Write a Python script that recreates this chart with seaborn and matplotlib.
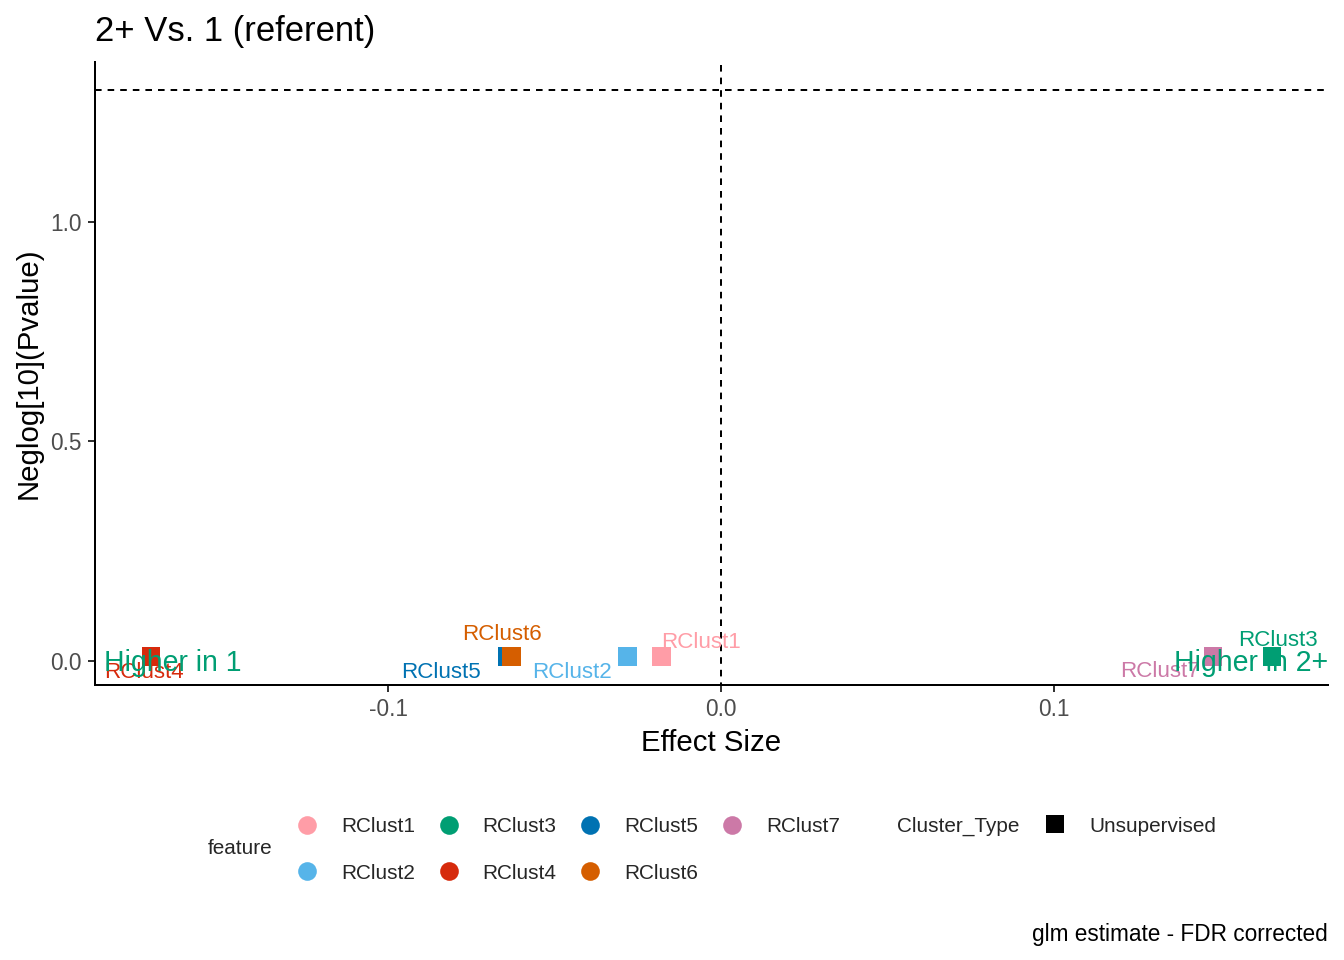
import numpy as np
import pandas as pd
import matplotlib
matplotlib.use("Agg")
import matplotlib.pyplot as plt
from matplotlib.lines import Line2D
from matplotlib.transforms import blended_transform_factory
import seaborn as sns

# ---- data ----
features = ["RClust1", "RClust2", "RClust3", "RClust4", "RClust5", "RClust6", "RClust7"]
effect = [-0.018, -0.028, 0.1654, -0.1712, -0.0643, -0.0630, 0.1477]
neglog_p = [0.0088, 0.0088, 0.0088, 0.0088, 0.0088, 0.0088, 0.0088]
cluster_type = ["Unsupervised"] * 7
colors = ["#FF9DA7", "#56B4E9", "#009E73", "#D62A0C", "#0072B2", "#D55E00", "#CC79A7"]
sig_threshold = 0.05
x_ticks = [-0.1, 0.0, 0.1]
y_ticks = [0.0, 0.5, 1.0]

# label offsets (pixels) for repelled labels: style only
label_offsets = {
    "RClust1": (40, 9), "RClust2": (-56, -21), "RClust3": (6, 11),
    "RClust4": (-7, -21), "RClust5": (-66.5, -21), "RClust6": (-9.5, 17),
    "RClust7": (-53, -20),
}

df = pd.DataFrame({"feature": features, "effect": effect, "neglog": neglog_p,
                   "Cluster_Type": cluster_type})
palette = dict(zip(features, colors))

sns.set_theme(style="white")
plt.rcParams["font.family"] = ["Liberation Sans", "DejaVu Sans"]
plt.rcParams["axes.unicode_minus"] = False

W, H = 1344, 960
fig = plt.figure(figsize=(7, 5), dpi=192)
ax = fig.add_axes([95 / W, 1 - 685 / H, (1328 - 95) / W, (685 - 62) / H])

sns.scatterplot(data=df, x="effect", y="neglog", hue="feature", palette=palette,
                marker="s", s=50, linewidth=0, legend=False, ax=ax, zorder=3)

hline_y = -np.log10(sig_threshold)
ax.axhline(hline_y, color="black", lw=0.75, ls=(0, (3.3, 3.0)), zorder=1)
ax.axvline(0, color="black", lw=0.75, ls=(2, (3.3, 3.0)), zorder=1)

xlo, xhi = min(effect), max(effect)
xp = 0.05 * (xhi - xlo)
ax.set_xlim(xlo - xp, xhi + xp)
ylo, yhi = min(neglog_p), max(max(neglog_p), hline_y)
yp = 0.05 * (yhi - ylo)
ax.set_ylim(ylo - yp, yhi + yp)

ax.set_xticks(x_ticks)
ax.set_xticklabels([f"{v:.1f}" for v in x_ticks])
ax.set_yticks(y_ticks)
ax.set_yticklabels([f"{v:.1f}" for v in y_ticks])
ax.tick_params(axis="both", length=2.75, width=0.75, color="#333333",
               labelcolor="#4D4D4D", labelsize=8.5, pad=2.2, direction="out",
               bottom=True, left=True)
for s in ["top", "right"]:
    ax.spines[s].set_visible(False)
for s in ["left", "bottom"]:
    ax.spines[s].set_color("black")
    ax.spines[s].set_linewidth(0.75)

ax.set_xlabel("Effect Size", fontsize=11, color="black", labelpad=3)
ax.set_ylabel("Neglog[10](Pvalue)", fontsize=11, color="black", labelpad=3)
ax.set_title("2+ Vs. 1 (referent)", loc="left", fontsize=13.0, pad=7.9, color="black")

# repelled labels
for f, xv, yv in zip(features, effect, neglog_p):
    dx, dy = label_offsets[f]
    ax.annotate(f, (xv, yv), xytext=(dx, dy), textcoords="offset pixels",
                ha="center", va="baseline", fontsize=8.4, color=palette[f], zorder=4)

# direction annotations
tr = blended_transform_factory(ax.transAxes, ax.transData)
ax.annotate("Higher in 1", (0.0073, 0.0), xycoords=tr, xytext=(0, -10),
            textcoords="offset pixels", ha="left", va="baseline",
            fontsize=10.7, color="#009E73", zorder=5)
ax.annotate("Higher in 2+", (1.0, 0.0), xycoords=tr, xytext=(0, -10),
            textcoords="offset pixels", ha="right", va="baseline",
            fontsize=10.7, color="#009E73", zorder=5)

# legends
handles = [Line2D([], [], ls="none", marker="o", markersize=7, markeredgewidth=0,
                  color=palette[f]) for f in features]
leg1 = fig.legend(handles, features, loc="center left",
                  bbox_to_anchor=(296.6 / W, 1 - 850 / H), ncol=4, frameon=False,
                  fontsize=7.8, handlelength=1.0, handletextpad=1.135,
                  columnspacing=1.12, labelspacing=1.32, borderpad=0, borderaxespad=0)
fig.text(208 / W, 1 - 849 / H, "feature", fontsize=7.8, ha="left", va="center")

h2 = [Line2D([], [], ls="none", marker="s", markersize=7, markeredgewidth=0, color="black")]
leg2 = fig.legend(h2, ["Unsupervised"], loc="center left",
                  bbox_to_anchor=(1044.6 / W, 1 - 826 / H), frameon=False,
                  fontsize=7.8, handlelength=1.0, handletextpad=1.135,
                  borderpad=0, borderaxespad=0)
fig.text(897 / W, 1 - 826 / H, "Cluster_Type", fontsize=7.8, ha="left", va="center")

fig.text(1328 / W, 1 - 934 / H, "glm estimate - FDR corrected", fontsize=8.5,
         ha="right", va="center", color="black")

fig.savefig("out.png", dpi=192)
